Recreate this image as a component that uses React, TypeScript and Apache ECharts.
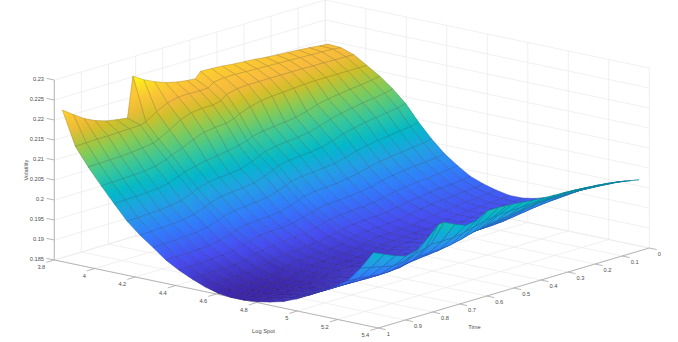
import React, { useEffect, useRef } from "react";
import * as echarts from "echarts";

const WIDTH = 678;
const HEIGHT = 342;

// Surface sampling (log spot columns, time rows)
const logSpot = [3.84, 3.904, 3.968, 4.032, 4.096, 4.16, 4.224, 4.288, 4.352, 4.416, 4.48, 4.544, 4.608, 4.672, 4.736, 4.8, 4.864, 4.928, 4.992, 5.056, 5.12, 5.184, 5.248, 5.312, 5.376];
const time = [1, 0.96, 0.92, 0.88, 0.84, 0.8, 0.76, 0.74, 0.7, 0.66, 0.62, 0.58, 0.54, 0.51, 0.49, 0.45, 0.41, 0.37, 0.33, 0.29, 0.25, 0.21, 0.17, 0.13, 0.09, 0.05, 0.02];

// Volatility x 10000: one line per log-spot column, one value per time row
const volBySpot = [
  [2229, 2210, 2192, 2179, 2170, 2165, 2161, 2262, 2245, 2232, 2222, 2215, 2211, 2209, 2224, 2223, 2221, 2218, 2216, 2214, 2211, 2209, 2207, 2205, 2203, 2200, 2198],
  [2145, 2146, 2147, 2147, 2148, 2149, 2150, 2154, 2172, 2186, 2192, 2193, 2192, 2193, 2203, 2207, 2207, 2206, 2205, 2204, 2203, 2202, 2201, 2200, 2199, 2198, 2196],
  [2100, 2101, 2102, 2103, 2105, 2108, 2112, 2118, 2133, 2150, 2160, 2163, 2163, 2168, 2180, 2186, 2188, 2188, 2188, 2188, 2188, 2188, 2187, 2187, 2186, 2186, 2185],
  [2060, 2061, 2062, 2063, 2065, 2069, 2078, 2085, 2095, 2108, 2118, 2122, 2124, 2130, 2138, 2148, 2155, 2158, 2160, 2162, 2164, 2165, 2165, 2165, 2165, 2165, 2165],
  [2022, 2023, 2024, 2026, 2028, 2033, 2043, 2049, 2056, 2062, 2066, 2070, 2076, 2082, 2088, 2094, 2097, 2100, 2104, 2111, 2120, 2126, 2130, 2134, 2137, 2141, 2145],
  [1985, 1986, 1988, 1989, 1992, 1997, 2008, 2015, 2023, 2026, 2028, 2032, 2042, 2051, 2058, 2063, 2066, 2069, 2073, 2081, 2090, 2097, 2102, 2107, 2111, 2115, 2120],
  [1957, 1958, 1960, 1961, 1964, 1969, 1980, 1986, 1994, 1997, 2000, 2004, 2013, 2022, 2029, 2034, 2037, 2039, 2043, 2051, 2061, 2067, 2073, 2077, 2081, 2085, 2090],
  [1933, 1934, 1935, 1937, 1939, 1944, 1953, 1959, 1966, 1968, 1970, 1974, 1982, 1990, 1996, 2001, 2003, 2006, 2009, 2016, 2024, 2030, 2035, 2038, 2042, 2045, 2050],
  [1908, 1909, 1910, 1911, 1913, 1918, 1926, 1932, 1938, 1940, 1942, 1945, 1953, 1960, 1966, 1970, 1972, 1974, 1978, 1984, 1991, 1997, 2001, 2004, 2008, 2011, 2015],
  [1890, 1891, 1892, 1893, 1895, 1899, 1906, 1911, 1917, 1919, 1920, 1923, 1930, 1937, 1941, 1945, 1947, 1949, 1952, 1957, 1964, 1969, 1973, 1976, 1978, 1981, 1985],
  [1875, 1876, 1877, 1878, 1879, 1883, 1890, 1894, 1899, 1901, 1903, 1905, 1912, 1918, 1922, 1925, 1927, 1929, 1932, 1937, 1943, 1947, 1951, 1953, 1956, 1959, 1962],
  [1862, 1863, 1864, 1864, 1866, 1869, 1876, 1880, 1884, 1886, 1888, 1890, 1896, 1901, 1905, 1908, 1910, 1912, 1914, 1919, 1924, 1928, 1932, 1934, 1936, 1939, 1942],
  [1853, 1854, 1855, 1855, 1857, 1860, 1866, 1870, 1875, 1876, 1878, 1880, 1885, 1891, 1895, 1898, 1899, 1901, 1903, 1908, 1913, 1917, 1920, 1922, 1925, 1927, 1930],
  [1849, 1850, 1850, 1851, 1853, 1855, 1861, 1865, 1869, 1871, 1872, 1874, 1879, 1884, 1888, 1891, 1892, 1894, 1896, 1900, 1905, 1909, 1912, 1914, 1916, 1918, 1921],
  [1849, 1850, 1850, 1851, 1852, 1855, 1860, 1864, 1867, 1869, 1870, 1872, 1877, 1881, 1885, 1887, 1889, 1890, 1892, 1896, 1900, 1904, 1906, 1908, 1910, 1912, 1915],
  [1852, 1853, 1853, 1854, 1855, 1858, 1863, 1866, 1870, 1871, 1872, 1874, 1878, 1883, 1886, 1889, 1890, 1891, 1893, 1897, 1901, 1904, 1907, 1909, 1911, 1912, 1915],
  [1858, 1859, 1859, 1860, 1861, 1864, 1869, 1872, 1876, 1877, 1878, 1880, 1884, 1889, 1892, 1895, 1896, 1897, 1899, 1903, 1907, 1910, 1913, 1915, 1917, 1918, 1921],
  [1866, 1867, 1867, 1868, 1869, 1872, 1877, 1880, 1884, 1886, 1887, 1889, 1893, 1898, 1901, 1904, 1905, 1906, 1908, 1912, 1917, 1920, 1923, 1925, 1926, 1928, 1931],
  [1879, 1880, 1880, 1881, 1882, 1885, 1890, 1894, 1897, 1899, 1900, 1902, 1907, 1911, 1915, 1917, 1919, 1920, 1922, 1926, 1930, 1934, 1936, 1938, 1940, 1942, 1945],
  [1895, 1896, 1896, 1897, 1898, 1901, 1906, 1909, 1913, 1915, 1916, 1918, 1922, 1927, 1930, 1933, 1934, 1935, 1937, 1941, 1946, 1949, 1952, 1954, 1955, 1957, 1960],
  [1912, 1912, 1912, 1912, 1913, 1915, 1918, 1922, 1926, 1929, 1931, 1934, 1940, 1944, 1947, 1949, 1950, 1951, 1953, 1957, 1961, 1965, 1968, 1970, 1972, 1974, 1975],
  [1930, 1929, 1928, 1927, 1927, 1928, 1930, 1934, 1938, 1941, 1944, 1950, 1957, 1962, 1965, 1968, 1971, 1974, 1980, 1985, 1990, 1991, 1991, 1991, 1990, 1989, 1988],
  [1952, 1950, 1947, 1944, 1945, 1950, 1955, 1960, 1962, 1963, 1966, 1972, 1980, 1985, 1988, 1992, 1996, 2000, 2003, 2006, 2008, 2008, 2007, 2006, 2004, 2002, 2000],
  [1990, 1985, 1978, 1972, 1975, 1985, 1993, 1998, 1998, 1998, 2003, 2010, 2017, 2020, 2022, 2023, 2024, 2025, 2026, 2027, 2028, 2027, 2025, 2023, 2020, 2016, 2012],
  [2036, 2024, 2012, 2003, 2010, 2032, 2058, 2060, 2047, 2036, 2040, 2056, 2057, 2055, 2054, 2052, 2049, 2047, 2046, 2045, 2043, 2041, 2038, 2035, 2031, 2026, 2022],
];

const spotTicks = ["3.8", "4", "4.2", "4.4", "4.6", "4.8", "5", "5.2", "5.4"];
const timeTicks = ["0", "0.1", "0.2", "0.3", "0.4", "0.5", "0.6", "0.7", "0.8", "0.9", "1"];
const volTicks = ["0.185", "0.19", "0.195", "0.2", "0.205", "0.21", "0.215", "0.22", "0.225", "0.23"];

const parulaAt = [0, 0.127, 0.254, 0.365, 0.46, 0.556, 0.667, 0.762, 0.825, 0.905, 1];
const parula = [
  [0.2422, 0.1504, 0.6603], [0.2813, 0.3006, 0.9414], [0.1963, 0.4847, 0.9892],
  [0.138, 0.6276, 0.8973], [0.0036, 0.7203, 0.7917], [0.1938, 0.7758, 0.6251],
  [0.5044, 0.7993, 0.348], [0.8203, 0.7498, 0.1535], [0.9728, 0.7298, 0.2394], [0.9892, 0.8085, 0.1816],
  [0.9769, 0.9839, 0.0805],
];
const COLOR_MIN = 0.1849;
const COLOR_MAX = 0.2263;

// Orthographic view of the axis box
const SPOT_MIN = 3.8, SPOT_MAX = 5.4, VOL_MIN = 0.185, VOL_MAX = 0.23;
const ORIGIN = [54.3, 260];
const SPOT_DIR = [324, 68];
const TIME_DIR = [271, -80];
const VOL_HEIGHT = 180;

function project(s: number, t: number, v: number): number[] {
  const a = (s - SPOT_MIN) / (SPOT_MAX - SPOT_MIN);
  const b = 1 - t;
  const h = ((v - VOL_MIN) / (VOL_MAX - VOL_MIN)) * VOL_HEIGHT;
  return [ORIGIN[0] + a * SPOT_DIR[0] + b * TIME_DIR[0], ORIGIN[1] + a * SPOT_DIR[1] + b * TIME_DIR[1] - h];
}

function colour(v: number, shade: number): string {
  const f = Math.min(1, Math.max(0, (v - COLOR_MIN) / (COLOR_MAX - COLOR_MIN)));
  let i = 0;
  while (i < parulaAt.length - 2 && f > parulaAt[i + 1]) i++;
  const w = (f - parulaAt[i]) / (parulaAt[i + 1] - parulaAt[i]);
  const c = parula[i].map((x, k) => x + (parula[i + 1][k] - x) * w);
  return `rgb(${c.map((x) => Math.round(x * 255 * shade)).join(",")})`;
}

type Seg = { a: number[]; b: number[]; stroke: string; w: number };

const GRID = "#e9e9e9";
const AXIS = "#a6a6a6";
const TEXT = "#4d4d4d";
const FONT = "5.7px 'Liberation Sans', Arial, sans-serif";

function buildWalls(): Seg[] {
  const out: Seg[] = [];
  const add = (p: number[], q: number[]) => out.push({ a: project(p[0], p[1], p[2]), b: project(q[0], q[1], q[2]), stroke: GRID, w: 0.7 });
  spotTicks.forEach((l) => {
    const s = +l;
    add([s, 1, VOL_MIN], [s, 0, VOL_MIN]);
    add([s, 0, VOL_MIN], [s, 0, VOL_MAX]);
  });
  timeTicks.forEach((l) => {
    const t = +l;
    add([SPOT_MIN, t, VOL_MIN], [SPOT_MAX, t, VOL_MIN]);
    add([SPOT_MIN, t, VOL_MIN], [SPOT_MIN, t, VOL_MAX]);
  });
  volTicks.forEach((l) => {
    const v = +l;
    add([SPOT_MIN, 1, v], [SPOT_MIN, 0, v]);
    add([SPOT_MIN, 0, v], [SPOT_MAX, 0, v]);
  });
  return out;
}

function buildAxes(): Seg[] {
  const out: Seg[] = [];
  const add = (a: number[], b: number[]) => out.push({ a, b, stroke: AXIS, w: 0.8 });
  add(project(SPOT_MIN, 1, VOL_MIN), project(SPOT_MIN, 1, VOL_MAX));
  add(project(SPOT_MIN, 1, VOL_MIN), project(SPOT_MAX, 1, VOL_MIN));
  add(project(SPOT_MAX, 1, VOL_MIN), project(SPOT_MAX, 0, VOL_MIN));
  volTicks.forEach((l) => {
    const p = project(SPOT_MIN, 1, +l);
    add(p, [p[0] - 7.7, p[1] - 1.6]);
  });
  spotTicks.forEach((l) => {
    const p = project(+l, 1, VOL_MIN);
    add(p, [p[0] - 8, p[1] + 2.4]);
  });
  timeTicks.forEach((l) => {
    const p = project(SPOT_MAX, +l, VOL_MIN);
    add(p, [p[0] + 7.5, p[1] + 1.6]);
  });
  return out;
}

type Label = { text: string; x: number; y: number; align: string; rotation?: number };

function buildLabels(): Label[] {
  const out: Label[] = [];
  volTicks.forEach((l) => {
    const p = project(SPOT_MIN, 1, +l);
    out.push({ text: l, x: p[0] - 10.3, y: p[1] - 1.2, align: "right" });
  });
  spotTicks.forEach((l) => {
    const p = project(+l, 1, VOL_MIN);
    out.push({ text: l, x: p[0] - 9, y: p[1] + 7, align: "right" });
  });
  timeTicks.forEach((l) => {
    const p = project(SPOT_MAX, +l, VOL_MIN);
    out.push({ text: l, x: p[0] + 8.5, y: p[1] + 6, align: "left" });
  });
  out.push({ text: "Log Spot", x: 263.5, y: 330.5, align: "center" });
  out.push({ text: "Time", x: 474.5, y: 327, align: "center" });
  out.push({ text: "Volatility", x: 26, y: 170, align: "center", rotation: Math.PI / 2 });
  return out;
}

// far cells first: small time, then small log spot
function buildCells(): number[][] {
  const out: number[][] = [];
  for (let r = time.length - 2; r >= 0; r--) {
    for (let c = 0; c < logSpot.length - 1; c++) out.push([c, r]);
  }
  return out;
}

function cellGradient(p: number[][], vals: number[], shade: number) {
  // vals and p run round the cell: (c,r) (c+1,r) (c+1,r+1) (c,r+1)
  const dS = Math.abs(vals[1] + vals[2] - vals[0] - vals[3]);
  const dT = Math.abs(vals[2] + vals[3] - vals[0] - vals[1]);
  const mid = (i: number, j: number) => [(p[i][0] + p[j][0]) / 2, (p[i][1] + p[j][1]) / 2];
  const from = dS >= dT ? mid(0, 3) : mid(0, 1);
  const to = dS >= dT ? mid(1, 2) : mid(3, 2);
  const v0 = dS >= dT ? (vals[0] + vals[3]) / 2 : (vals[0] + vals[1]) / 2;
  const v1 = dS >= dT ? (vals[1] + vals[2]) / 2 : (vals[3] + vals[2]) / 2;
  return {
    type: "linear",
    global: true,
    x: from[0],
    y: from[1],
    x2: to[0],
    y2: to[1],
    colorStops: [
      { offset: 0, color: colour(v0, shade) },
      { offset: 0.5, color: colour((v0 + v1) / 2, shade) },
      { offset: 1, color: colour(v1, shade) },
    ],
  };
}

export default function App() {
  const ref = useRef<HTMLDivElement>(null);
  useEffect(() => {
    document.body.style.margin = "0";
    const chart = echarts.init(ref.current!, null, { renderer: "svg", width: WIDTH, height: HEIGHT });
    const walls = buildWalls();
    const axes = buildAxes();
    const labels = buildLabels();
    const cells = buildCells();

    const segRender = (list: Seg[]) => (params: any, api: any) => {
      const seg = list[params.dataIndex];
      const p = api.coord(seg.a);
      const q = api.coord(seg.b);
      return { type: "line", shape: { x1: p[0], y1: p[1], x2: q[0], y2: q[1] }, style: { stroke: seg.stroke, lineWidth: seg.w, fill: "none" } };
    };

    chart.setOption({
      animation: false,
      backgroundColor: "#ffffff",
      grid: { left: 0, right: 0, top: 0, bottom: 0 },
      xAxis: { type: "value", min: 0, max: WIDTH, show: false },
      yAxis: { type: "value", min: 0, max: HEIGHT, inverse: true, show: false },
      tooltip: { show: false },
      series: [
        { type: "custom", silent: true, z: 1, data: walls.map((_, i) => [i, 0]), renderItem: segRender(walls) },
        { type: "custom", silent: true, z: 2, data: axes.map((_, i) => [i, 0]), renderItem: segRender(axes) },
        {
          type: "custom",
          silent: true,
          z: 3,
          data: cells,
          renderItem: (params: any, api: any) => {
            const [c, r] = cells[params.dataIndex];
            const corners = [[c, r], [c + 1, r], [c + 1, r + 1], [c, r + 1]];
            const vals = corners.map(([ci, ri]) => volBySpot[ci][ri] / 10000);
            const points = corners.map(([ci, ri], i) => api.coord(project(logSpot[ci], time[ri], vals[i])));
            return {
              type: "polygon",
              shape: { points },
              style: { fill: cellGradient(points, vals, 1), stroke: cellGradient(points, vals, 0.72), lineWidth: 0.5 },
            };
          },
        },
        {
          type: "custom",
          silent: true,
          z: 4,
          data: labels.map((_, i) => [i, 0]),
          renderItem: (params: any, api: any) => {
            const l = labels[params.dataIndex];
            const p = api.coord([l.x, l.y]);
            return {
              type: "text",
              x: p[0],
              y: p[1],
              rotation: l.rotation || 0,
              style: { text: l.text, align: l.align, verticalAlign: "middle", font: FONT, fill: TEXT },
            };
          },
        },
      ],
    });
    return () => chart.dispose();
  }, []);
  return <div ref={ref} style={{ width: WIDTH, height: HEIGHT }} />;
}
